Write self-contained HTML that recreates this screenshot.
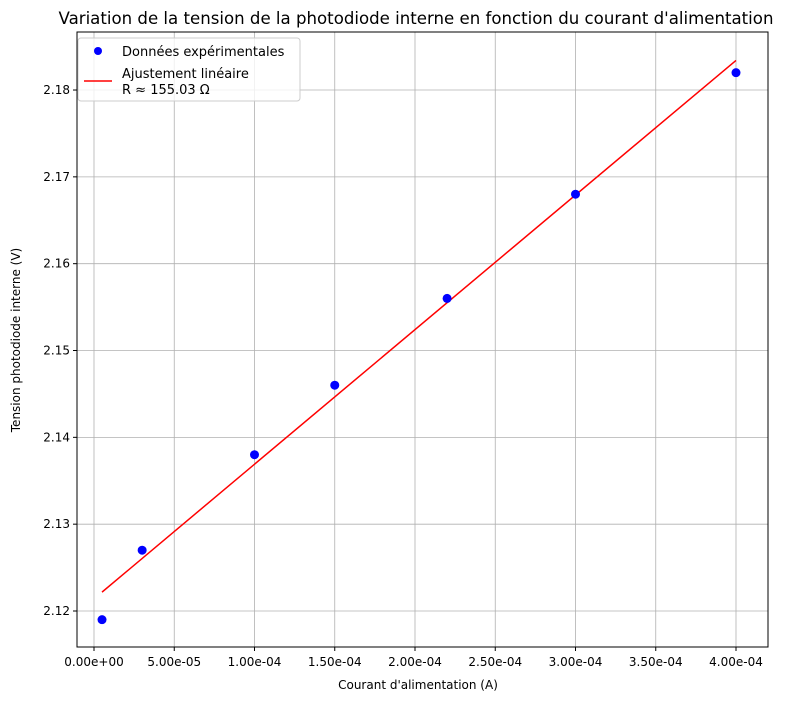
<!DOCTYPE html>
<html><head><meta charset="utf-8"><style>
body{margin:0;background:#fff;}
svg text{font-family:"DejaVu Sans","Liberation Sans",sans-serif;}
</style></head><body>
<svg id="chart" width="788" height="701" xmlns="http://www.w3.org/2000/svg">
<rect width="788" height="701" fill="#fff"/>
<text x="416" y="24" font-size="16.6" text-anchor="middle">Variation de la tension de la photodiode interne en fonction du courant d'alimentation</text>
<g id="grid"></g>
<g id="marks"></g>
<rect x="77" y="32" width="691" height="615" fill="none" stroke="#000" stroke-width="1"/>
<g id="ticks"></g>
<text x="418" y="689" font-size="12" text-anchor="middle">Courant d'alimentation (A)</text>
<text transform="translate(20,340) rotate(-90)" font-size="12" text-anchor="middle">Tension photodiode interne (V)</text>
<g>
<rect x="78" y="38" width="222" height="63" rx="3" fill="#fff" fill-opacity="0.8" stroke="#ccc"/>
<circle cx="98" cy="51" r="4" fill="#0000ff"/>
<text x="122" y="56" font-size="13">Données expérimentales</text>
<line x1="84" y1="81" x2="112" y2="81" stroke="#ff0000" stroke-width="1.5"/>
<text x="122" y="78" font-size="13">Ajustement linéaire</text>
<text x="122" y="94" font-size="13">R ≈ 155.03 Ω</text>
</g>
</svg>
<script>
const currents=[5e-6,3e-5,1e-4,1.5e-4,2.2e-4,3e-4,4e-4];
const voltages=[2.119,2.127,2.138,2.146,2.156,2.168,2.182];
const slope=155.03;
const intercept=2.1214;
const xTicks=[0,5e-5,1e-4,1.5e-4,2e-4,2.5e-4,3e-4,3.5e-4,4e-4];
const xTickLabels=["0.00e+00","5.00e-05","1.00e-04","1.50e-04","2.00e-04","2.50e-04","3.00e-04","3.50e-04","4.00e-04"];
const yTicks=[2.12,2.13,2.14,2.15,2.16,2.17,2.18];
const yTickLabels=["2.12","2.13","2.14","2.15","2.16","2.17","2.18"];
const NS="http://www.w3.org/2000/svg";
const sx=v=>94+v*1605000;
const sy=v=>611-(v-2.12)*8683;
function mk(t,a,p){const e=document.createElementNS(NS,t);for(const k in a)e.setAttribute(k,a[k]);p.appendChild(e);return e;}
const grid=document.getElementById('grid'),ticks=document.getElementById('ticks'),marks=document.getElementById('marks');
xTicks.forEach((v,i)=>{const x=sx(v);
const g=mk('line',{x1:x,y1:32,x2:x,y2:647,stroke:'#b0b0b0','stroke-width':0.8},grid);


const t=mk('line',{x1:x,y1:647,x2:x,y2:651,stroke:'#000'},ticks);


const l=mk('text',{x:x,y:666,'font-size':12,'text-anchor':'middle'},ticks);l.textContent=xTickLabels[i];

});
yTicks.forEach((v,i)=>{const y=sy(v);
const g=mk('line',{x1:77,y1:y,x2:768,y2:y,stroke:'#b0b0b0','stroke-width':0.8},grid);


const t=mk('line',{x1:73,y1:y,x2:77,y2:y,stroke:'#000'},ticks);


const l=mk('text',{x:70,y:y+4,'font-size':12,'text-anchor':'end'},ticks);l.textContent=yTickLabels[i];

});
const x0=currents[0],x1=currents[currents.length-1];
const fit=mk('line',{x1:sx(x0),y1:sy(intercept+slope*x0),x2:sx(x1),y2:sy(intercept+slope*x1),stroke:'#ff0000','stroke-width':1.5},marks);


currents.forEach((c,i)=>{const p=mk('circle',{cx:sx(c),cy:sy(voltages[i]),r:4.5,fill:'#0000ff'},marks);

});
</script>
</body></html>
